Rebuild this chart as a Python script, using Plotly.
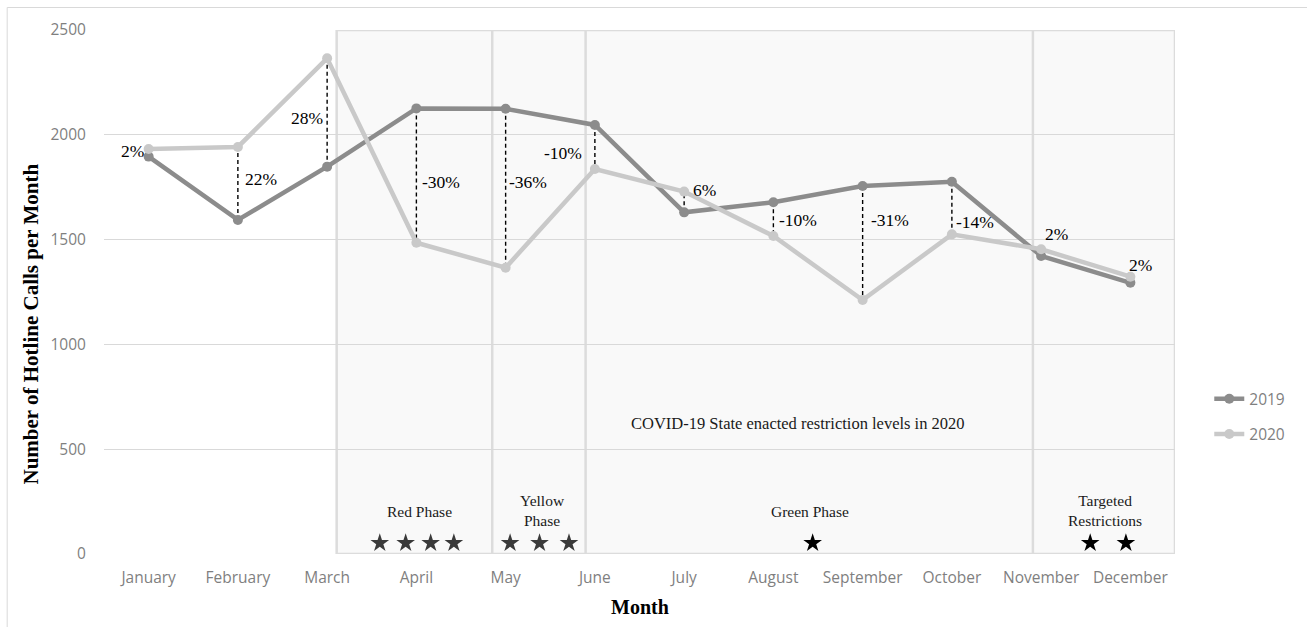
import plotly.graph_objects as go

# Monthly hotline calls
months = ["January", "February", "March", "April", "May", "June", "July",
          "August", "September", "October", "November", "December"]
calls_2019 = [1896, 1594, 1848, 2126, 2124, 2047, 1630, 1678, 1756, 1776, 1422, 1294]
calls_2020 = [1932, 1942, 2365, 1485, 1366, 1837, 1729, 1517, 1212, 1525, 1454, 1323]
y_ticks = [0, 500, 1000, 1500, 2000, 2500]

# Restriction phases of 2020 and the number of stars shown for each
phase_names = ["Red Phase", "Yellow<br>Phase", "Green Phase", "Targeted<br>Restrictions"]
phase_stars = [4, 3, 1, 2]

# ---- layout helpers (positions in axis units) ----
idx = list(range(len(months)))
phase_edges = [2.107, 3.85, 4.896, 9.908]          # start of each phase band
band_right = 11.5
phase_label_pos = [(3.03, 202), (4.41, 208), (7.41, 202), (10.72, 208)]
star_x = [[2.59, 2.88, 3.16, 3.42], [4.05, 4.38, 4.71], [7.44], [10.55, 10.95]]
star_colors = ["#3a3a3a", "#3a3a3a", "#000000", "#000000"]
star_y = 52
# percent label centres
pct_pos = [(-0.185, 1921), (1.256, 1791), (1.772, 2082), (3.275, 1775),
           (4.253, 1773), (4.645, 1915), (6.224, 1738), (7.277, 1592),
           (8.311, 1592), (9.255, 1584), (10.177, 1525), (11.111, 1381)]

SERIF = "Liberation Serif, Times New Roman, serif"
SANS = "Open Sans, Calibri, sans-serif"
C19 = "#8c8c8c"
C20 = "#c9c9c9"
GRID = "#d9d9d9"

fig = go.Figure()

# dashed connectors between the two years
dx, dy = [], []
for i in idx:
    dx += [i, i, None]
    dy += [calls_2019[i], calls_2020[i], None]
fig.add_trace(go.Scatter(x=dx, y=dy, mode="lines", showlegend=False, hoverinfo="skip",
                         line=dict(color="black", width=1.4, dash="4px,3px")))

fig.add_trace(go.Scatter(x=idx, y=calls_2019, name="2019", mode="lines+markers",
                         legendgroup="g2019",
                         line=dict(color=C19, width=4.5), marker=dict(size=10, color=C19)))
fig.add_trace(go.Scatter(x=idx, y=calls_2020, name="2020", mode="lines+markers",
                         legendgroup="g2020",
                         line=dict(color=C20, width=4.5), marker=dict(size=10, color=C20)))

# stars for each phase
for n, xs, col in zip(phase_stars, star_x, star_colors):
    fig.add_trace(go.Scatter(x=xs[:n], y=[star_y] * n, mode="markers", showlegend=False,
                             hoverinfo="skip",
                             marker=dict(symbol="star", size=14, color=col)))

shapes = [
    # outer chart frame
    dict(type="rect", xref="paper", yref="paper", x0=-0.0904, x1=2, y0=-1, y1=1.0429,
         line=dict(color=GRID, width=1), fillcolor="rgba(0,0,0,0)", layer="below"),
    # 2020 restriction band
    dict(type="rect", xref="x", yref="y", x0=phase_edges[0], x1=band_right, y0=0, y1=2500,
         line=dict(color="#dcdcdc", width=2.5), fillcolor="#f9f9f9", layer="below"),
]
for e in phase_edges[1:]:
    shapes.append(dict(type="line", xref="x", yref="y", x0=e, x1=e, y0=0, y1=2500,
                       line=dict(color="#dcdcdc", width=2.5), layer="below"))

annotations = []
for i in idx:
    pct = round((calls_2020[i] / calls_2019[i] - 1) * 100)
    px, py = pct_pos[i]
    annotations.append(dict(x=px, y=py, xref="x", yref="y", text=f"{pct}%", showarrow=False,
                            font=dict(family=SERIF, size=17.5, color="black")))
for name, (px, py) in zip(phase_names, phase_label_pos):
    annotations.append(dict(x=px, y=py, xref="x", yref="y", text=name, showarrow=False,
                            font=dict(family=SERIF, size=15.5, color="#1a1a1a")))
annotations.append(dict(x=7.28, y=623, xref="x", yref="y",
                        text="COVID-19 State enacted restriction levels in 2020",
                        showarrow=False, font=dict(family=SERIF, size=16.5, color="#1a1a1a")))
# axis titles
annotations.append(dict(x=-0.0686, y=0.439, xref="paper", yref="paper", textangle=-90,
                        xanchor="center", yanchor="middle",
                        text="<b>Number of Hotline Calls per Month</b>", showarrow=False,
                        font=dict(family=SERIF, size=21, color="black")))
annotations.append(dict(x=0.5, y=-0.1005, xref="paper", yref="paper",
                        xanchor="center", yanchor="middle",
                        text="<b>Month</b>", showarrow=False,
                        font=dict(family=SERIF, size=20, color="black")))

fig.update_layout(
    width=1307, height=627,
    margin=dict(l=104, r=132, t=30, b=73),
    paper_bgcolor="white", plot_bgcolor="white",
    shapes=shapes, annotations=annotations,
    xaxis=dict(range=[-0.5, 11.5], tickvals=idx, ticktext=months, showgrid=False,
               zeroline=False, showline=False, ticks="outside", ticklen=9,
               tickcolor="rgba(0,0,0,0)",
               tickfont=dict(family=SANS, size=15.5, color="#7f7f7f")),
    yaxis=dict(range=[0, 2500], tickvals=y_ticks, showgrid=True, gridcolor=GRID, gridwidth=1.3,
               zeroline=False, showline=False, ticks="outside", ticklen=14,
               tickcolor="rgba(0,0,0,0)",
               tickfont=dict(family=SANS, size=15.5, color="#7f7f7f")),
    legend=dict(x=1.032, xanchor="left", y=0.262, yanchor="middle", tracegroupgap=12,
                font=dict(family=SANS, size=15.5, color="#7f7f7f"), bgcolor="rgba(0,0,0,0)"),
    showlegend=True,
)

fig.write_html("out.html")
